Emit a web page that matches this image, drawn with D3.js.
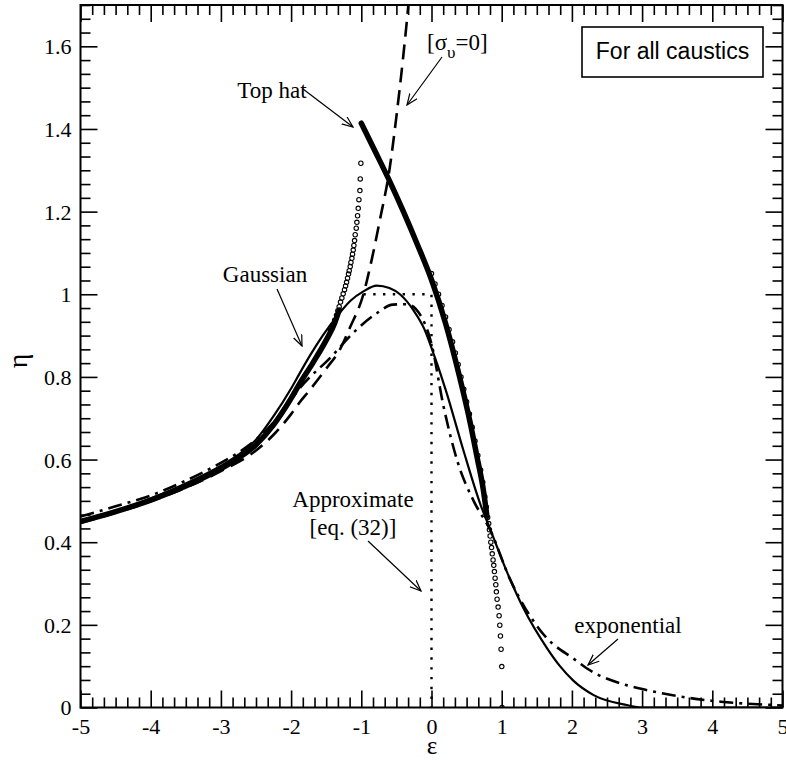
<!DOCTYPE html>
<html>
<head>
<meta charset="utf-8">
<script src="https://cdn.jsdelivr.net/npm/d3@7/dist/d3.min.js"></script>
<style>
  body { margin: 0; background: #fff; }
  svg { display: block; }
  .tick text { font-family: "Liberation Serif", "Times New Roman", serif; font-size: 22px; fill: #000; }
  .axis path { display: none; }
  .axis line { stroke: #000; stroke-width: 1.6; }
  .note { font-family: "Liberation Serif", "Times New Roman", serif; font-size: 23px; fill: #000; }
</style>
</head>
<body>
<div id="chart"></div>
<script>
// ---- data ----
var xTicks = [-5, -4, -3, -2, -1, 0, 1, 2, 3, 4, 5];
var xTickLabels = ["-5", "-4", "-3", "-2", "-1", "0", "1", "2", "3", "4", "5"];
var yTicks = [0, 0.2, 0.4, 0.6, 0.8, 1, 1.2, 1.4, 1.6];
var yTickLabels = ["0", "0.2", "0.4", "0.6", "0.8", "1", "1.2", "1.4", "1.6"];

// top hat, thick solid (two branches)
var topHatLeft = [[-5, 0.45], [-4.5, 0.474], [-4, 0.502], [-3.5, 0.536], [-3, 0.578], [-2.75, 0.604], [-2.5, 0.636],
  [-2.25, 0.684], [-2.0, 0.748], [-1.88, 0.783], [-1.69, 0.834], [-1.5, 0.889], [-1.38, 0.93], [-1.315, 0.962]];
var topHatRight = [[-1.0, 1.414], [-0.8, 1.345], [-0.6, 1.275], [-0.4, 1.2], [-0.2, 1.12], [0.0, 1.035], [0.2, 0.93],
  [0.4, 0.8], [0.55, 0.69], [0.65, 0.605], [0.74, 0.525], [0.79, 0.462]];

// open circles
var circlesLeft = [[-1.006, 1.317], [-1.015, 1.279], [-1.02, 1.251], [-1.034, 1.229], [-1.044, 1.208], [-1.053, 1.19],
  [-1.063, 1.174], [-1.072, 1.16], [-1.087, 1.144], [-1.096, 1.13], [-1.106, 1.118], [-1.115, 1.107], [-1.125, 1.097],
  [-1.134, 1.087], [-1.148, 1.077], [-1.158, 1.067], [-1.172, 1.057], [-1.182, 1.049], [-1.196, 1.039], [-1.21, 1.029],
  [-1.224, 1.02], [-1.239, 1.011], [-1.258, 1.001], [-1.277, 0.991], [-1.296, 0.981], [-1.315, 0.97], [-1.334, 0.96],
  [-1.353, 0.949], [-1.38, 0.937], [-1.41, 0.925], [-1.44, 0.913]];
var circlesRight = [[0.0, 1.05], [0.05, 1.025], [0.1, 1.0], [0.15, 0.973], [0.2, 0.945], [0.25, 0.915], [0.3, 0.885],
  [0.34, 0.858], [0.38, 0.83], [0.42, 0.8], [0.46, 0.77], [0.5, 0.74], [0.54, 0.71], [0.58, 0.678], [0.62, 0.645],
  [0.66, 0.61], [0.7, 0.575], [0.73, 0.545], [0.76, 0.51], [0.78, 0.485], [0.8, 0.46],
  [0.815, 0.445], [0.825, 0.43], [0.835, 0.415], [0.845, 0.4], [0.855, 0.387], [0.865, 0.372], [0.877, 0.357],
  [0.887, 0.344], [0.896, 0.329], [0.906, 0.313], [0.916, 0.297], [0.924, 0.28], [0.934, 0.262], [0.949, 0.243],
  [0.963, 0.222], [0.973, 0.199], [0.982, 0.173], [0.991, 0.141], [1.001, 0.099], [1.005, 0.0]];

// gaussian, thin solid
var gaussian = [[-5, 0.45], [-4.5, 0.476], [-4, 0.506], [-3.5, 0.542], [-3, 0.585], [-2.75, 0.612], [-2.5, 0.648],
  [-2.25, 0.705], [-2.0, 0.772], [-1.88, 0.808], [-1.73, 0.852], [-1.55, 0.9], [-1.35, 0.946], [-1.15, 0.985],
  [-0.97, 1.007], [-0.78, 1.021], [-0.6, 1.015], [-0.45, 1.0], [-0.26, 0.962], [-0.1, 0.915], [0.0, 0.87],
  [0.2, 0.77], [0.45, 0.625], [0.7, 0.49], [0.84, 0.43], [1.07, 0.33], [1.31, 0.24], [1.64, 0.145], [1.83, 0.1],
  [2.02, 0.065], [2.31, 0.03], [2.78, 0.006], [3.0, 0.0], [5.0, 0.0]];

// exponential, dash-dot
var exponential = [[-5, 0.462], [-4.5, 0.487], [-4, 0.513], [-3.5, 0.549], [-3, 0.592], [-2.75, 0.617], [-2.5, 0.648],
  [-2.25, 0.69], [-2.0, 0.745], [-1.88, 0.772], [-1.45, 0.845], [-1.07, 0.914], [-0.78, 0.954], [-0.55, 0.975],
  [-0.35, 0.976], [-0.16, 0.95], [0.0, 0.88], [0.17, 0.73], [0.38, 0.59], [0.6, 0.5], [0.835, 0.43], [1.12, 0.31],
  [1.6, 0.176], [2.05, 0.115], [2.21, 0.095], [2.78, 0.054], [3.07, 0.042], [3.64, 0.024], [4.12, 0.014],
  [4.88, 0.006], [5.0, 0.005]];

// sigma_v = 0, long dashes
var sigmaZero = [[-5, 0.447], [-4.5, 0.471], [-4, 0.499], [-3.5, 0.532], [-3, 0.572], [-2.5, 0.622], [-2.25, 0.66],
  [-2.0, 0.71], [-1.88, 0.738], [-1.75, 0.765], [-1.5, 0.82], [-1.3, 0.868], [-1.16, 0.92], [-0.97, 1.0],
  [-0.85, 1.085], [-0.735, 1.18], [-0.6, 1.3], [-0.5, 1.43], [-0.4, 1.58], [-0.33, 1.7], [-0.28, 1.8]];

// approximate [eq. (32)], dotted
var approx = [[-0.97, 1.0], [0.0, 1.0], [0.0, 0.0]];

var margin = {top: 5, right: 4, bottom: 53.5, left: 80.5},
    width = 786 - margin.left - margin.right + 0.5,
    height = 761 - margin.top - margin.bottom;

var x = d3.scaleLinear().domain([-5, 5]).range([0, width]);
var y = d3.scaleLinear().domain([0, 1.7]).range([height, 0]);

var svg = d3.select("#chart").append("svg")
    .attr("width", 786)
    .attr("height", 761);

var defs = svg.append("defs");
defs.append("clipPath").attr("id", "plot-clip")
  .append("rect").attr("width", width).attr("height", height);
defs.append("marker")
    .attr("id", "arrow")
    .attr("viewBox", "0 0 12 10")
    .attr("refX", 11).attr("refY", 5)
    .attr("markerWidth", 12).attr("markerHeight", 10)
    .attr("markerUnits", "userSpaceOnUse")
    .attr("orient", "auto")
  .append("path")
    .attr("d", "M0,0.5 L11,5 L0,9.5")
    .attr("fill", "none")
    .attr("stroke", "#000")
    .attr("stroke-width", 1.2);

var g = svg.append("g")
    .attr("transform", "translate(" + margin.left + "," + margin.top + ")");

// minor tick positions
var xMinor = d3.range(-5, 5.001, 1 / 6).filter(function(v) { return Math.abs(v - Math.round(v)) > 1e-6; });
var yMinor = d3.range(0, 1.7001, 0.2 / 6).filter(function(v) { return Math.abs(v * 5 - Math.round(v * 5)) > 1e-6; });

function fmtX(d) { return xTickLabels[xTicks.indexOf(d)]; }
function fmtY(d) { return yTickLabels[yTicks.indexOf(d)]; }

// bottom
g.append("g").attr("class", "axis").attr("transform", "translate(0," + height + ")")
  .call(d3.axisBottom(x).tickValues(xTicks).tickSize(-17).tickFormat(fmtX))
  .selectAll("text").attr("dy", "0.82em").attr("y", 8);
g.append("g").attr("class", "axis").attr("transform", "translate(0," + height + ")")
  .call(d3.axisBottom(x).tickValues(xMinor).tickSize(-10).tickFormat(""));
// top
g.append("g").attr("class", "axis")
  .call(d3.axisTop(x).tickValues(xTicks).tickSize(-17).tickFormat(""));
g.append("g").attr("class", "axis")
  .call(d3.axisTop(x).tickValues(xMinor).tickSize(-10).tickFormat(""));
// left
g.append("g").attr("class", "axis")
  .call(d3.axisLeft(y).tickValues(yTicks).tickSize(-17).tickFormat(fmtY))
  .selectAll("text").attr("x", -9).attr("dy", "0.34em");
g.append("g").attr("class", "axis")
  .call(d3.axisLeft(y).tickValues(yMinor).tickSize(-10).tickFormat(""));
// right
g.append("g").attr("class", "axis").attr("transform", "translate(" + width + ",0)")
  .call(d3.axisRight(y).tickValues(yTicks).tickSize(-17).tickFormat(""));
g.append("g").attr("class", "axis").attr("transform", "translate(" + width + ",0)")
  .call(d3.axisRight(y).tickValues(yMinor).tickSize(-10).tickFormat(""));

// frame
g.append("rect")
    .attr("width", width).attr("height", height)
    .attr("fill", "none").attr("stroke", "#000").attr("stroke-width", 2);

var line = d3.line()
    .x(function(d) { return x(d[0]); })
    .y(function(d) { return y(d[1]); })
    .curve(d3.curveMonotoneX);

var plot = g.append("g").attr("clip-path", "url(#plot-clip)");

plot.append("path").datum(gaussian)
    .attr("d", line).attr("fill", "none").attr("stroke", "#000").attr("stroke-width", 2.2);

plot.append("path").datum(exponential)
    .attr("d", line).attr("fill", "none").attr("stroke", "#000").attr("stroke-width", 2.6)
    .attr("stroke-dasharray", "14,6,3,6");

plot.append("path").datum(sigmaZero)
    .attr("d", line).attr("fill", "none").attr("stroke", "#000").attr("stroke-width", 2.6)
    .attr("stroke-dasharray", "15,8");

plot.append("path").datum(approx)
    .attr("d", d3.line().x(function(d) { return x(d[0]); }).y(function(d) { return y(d[1]); }))
    .attr("fill", "none").attr("stroke", "#000").attr("stroke-width", 2.4)
    .attr("stroke-dasharray", "2.4,7.4");

[topHatLeft, topHatRight].forEach(function(branch) {
  plot.append("path").datum(branch)
      .attr("d", line).attr("fill", "none").attr("stroke", "#000").attr("stroke-width", 5.5)
      .attr("stroke-linecap", "round");
});

plot.selectAll("circle.pt")
    .data(circlesLeft.concat(circlesRight))
  .enter().append("circle")
    .attr("class", "pt")
    .attr("cx", function(d) { return x(d[0]); })
    .attr("cy", function(d) { return y(d[1]); })
    .attr("r", 2.2)
    .attr("fill", "none")
    .attr("stroke", "#000")
    .attr("stroke-width", 1.1);

// legend box
g.append("rect")
    .attr("x", 582 - margin.left).attr("y", 27 - margin.top)
    .attr("width", 181).attr("height", 50)
    .attr("fill", "#fff").attr("stroke", "#000").attr("stroke-width", 1.6);
g.append("text")
    .attr("x", 672.5 - margin.left).attr("y", 59 - margin.top)
    .attr("text-anchor", "middle")
    .style("font-family", "'Liberation Sans', Arial, sans-serif")
    .style("font-size", "23px")
    .text("For all caustics");

// annotations (page coordinates)
var notes = svg.append("g");
function arrow(x1, y1, x2, y2) {
  notes.append("line")
      .attr("x1", x1).attr("y1", y1).attr("x2", x2).attr("y2", y2)
      .attr("stroke", "#000").attr("stroke-width", 1.2)
      .attr("marker-end", "url(#arrow)");
}

notes.append("text").attr("class", "note").attr("x", 272).attr("y", 98)
    .attr("text-anchor", "middle").text("Top hat");
arrow(303, 89, 353, 127);

var sig = notes.append("text").attr("class", "note").attr("x", 427).attr("y", 50);
sig.append("tspan").text("[\u03c3");
sig.append("tspan").attr("dy", 8).style("font-size", "17px").text("\u03c5");
sig.append("tspan").attr("dy", -8).text("=0]");
arrow(442, 57, 407, 105);

notes.append("text").attr("class", "note").attr("x", 265).attr("y", 282)
    .attr("text-anchor", "middle").text("Gaussian");
arrow(277, 289, 302, 346);

notes.append("text").attr("class", "note").attr("x", 353).attr("y", 507)
    .attr("text-anchor", "middle").text("Approximate");
notes.append("text").attr("class", "note").attr("x", 353).attr("y", 535)
    .attr("text-anchor", "middle").text("[eq. (32)]");
arrow(368, 541, 421, 591);

notes.append("text").attr("class", "note").attr("x", 628).attr("y", 633)
    .attr("text-anchor", "middle").text("exponential");
arrow(618, 639, 588, 665);

// axis titles
svg.append("text")
    .attr("transform", "translate(27,361) rotate(-90)")
    .attr("text-anchor", "middle")
    .style("font-family", "'Liberation Serif', 'Times New Roman', serif")
    .style("font-size", "28px")
    .text("\u03b7");
svg.append("text")
    .attr("x", 432).attr("y", 754)
    .attr("text-anchor", "middle")
    .style("font-family", "'Liberation Serif', 'Times New Roman', serif")
    .style("font-size", "25px")
    .text("\u03b5");
</script>
</body>
</html>
